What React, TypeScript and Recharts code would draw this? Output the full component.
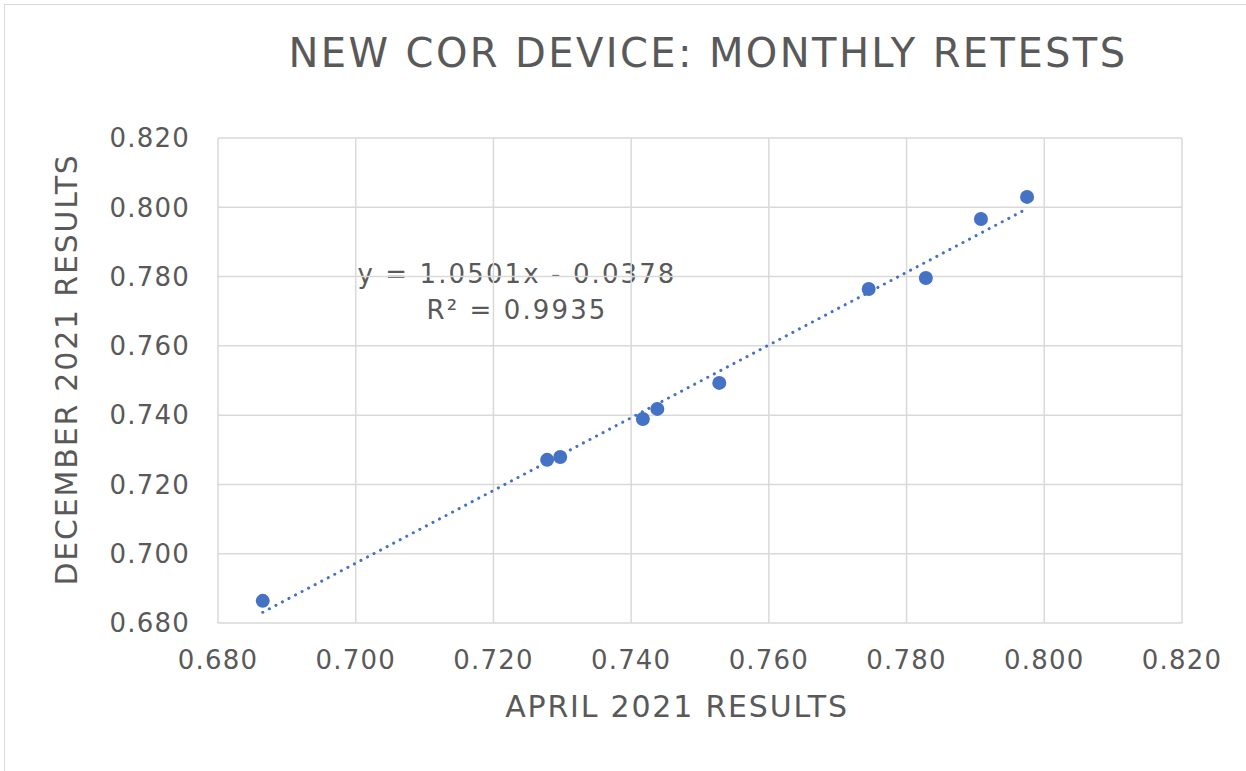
import {
  ScatterChart,
  Scatter,
  XAxis,
  YAxis,
  CartesianGrid,
  Label,
} from "recharts";

// April 2021 vs December 2021 retest results
const aprilResults = [0.6865, 0.7278, 0.7297, 0.7417, 0.7438, 0.7528, 0.7745, 0.7828, 0.7908, 0.7975];
const decemberResults = [0.6864, 0.7271, 0.7279, 0.7389, 0.7418, 0.7493, 0.7764, 0.7796, 0.7966, 0.803];

// linear trendline end points, as drawn
const trendX = [0.6865, 0.7975];
const trendY = [0.6831, 0.7996];

const axisTicks = [0.68, 0.7, 0.72, 0.74, 0.76, 0.78, 0.8, 0.82];

const points = aprilResults.map((x, i) => ({ x, y: decemberResults[i] }));
const trend = trendX.map((x, i) => ({ x, y: trendY[i] }));

const textColor = "#595959";
const blue = "#4472c4";
const font = "'DejaVu Sans', Verdana, sans-serif";

const App = () => {
  return (
    <div
      style={{
        position: "absolute",
        left: 0,
        top: 0,
        width: 1246,
        height: 771,
        background: "#fff",
        fontFamily: font,
        overflow: "hidden",
      }}
    >
      <div
        style={{
          position: "absolute",
          left: 4,
          top: 4,
          width: 1260,
          height: 780,
          border: "1px solid #d9d9d9",
        }}
      />
      <div
        style={{
          position: "absolute",
          left: 0,
          width: 1416,
          top: 30,
          textAlign: "center",
          fontSize: 40,
          letterSpacing: 2.4,
          color: textColor,
        }}
      >
        NEW COR DEVICE: MONTHLY RETESTS
      </div>
      <div
        style={{
          position: "absolute",
          left: 317,
          width: 400,
          top: 256,
          textAlign: "center",
          fontSize: 26,
          lineHeight: "36px",
          letterSpacing: 2.1,
          color: textColor,
        }}
      >
        y = 1.0501x - 0.0378
        <br />
        R² = 0.9935
      </div>
      <div style={{ position: "absolute", left: 0, top: 0 }}>
        <ScatterChart
          width={1246}
          height={771}
          margin={{ top: 138, right: 64, bottom: 0, left: 0 }}
          style={{ fontFamily: font }}
        >
          <CartesianGrid stroke="#d9d9d9" strokeWidth={1.5} />
          <XAxis
            type="number"
            dataKey="x"
            domain={[0.68, 0.82]}
            ticks={axisTicks}
            tickFormatter={(v: number) => v.toFixed(3)}
            axisLine={false}
            tickLine={false}
            tickSize={0}
            tickMargin={28}
            height={148}
            tick={{ fill: textColor, fontSize: 26, letterSpacing: 1.2 }}
            interval={0}
          >
            <Label
              value="APRIL 2021 RESULTS"
              position="insideTop"
              offset={73}
              dx={-23}
              style={{ fill: textColor, fontSize: 30, letterSpacing: 1.8 }}
            />
          </XAxis>
          <YAxis
            type="number"
            dataKey="y"
            domain={[0.68, 0.82]}
            ticks={axisTicks}
            tickFormatter={(v: number) => v.toFixed(3)}
            axisLine={false}
            tickLine={false}
            tickSize={0}
            tickMargin={28}
            width={218}
            tick={{ fill: textColor, fontSize: 26, letterSpacing: 1.2 }}
            interval={0}
          >
            <Label
              value="DECEMBER 2021 RESULTS"
              angle={-90}
              position="insideLeft"
              offset={63}
              dx={3}
              dy={-11}
              style={{ fill: textColor, fontSize: 30, textAnchor: "middle", letterSpacing: 1.8 }}
            />
          </YAxis>
          <Scatter
            data={trend}
            line={{ stroke: blue, strokeWidth: 3, strokeDasharray: "0.1 7.3", strokeLinecap: "round" }}
            shape={() => <g />}
            isAnimationActive={false}
          />
          <Scatter data={points} fill={blue} isAnimationActive={false} shape={(p: any) => <circle cx={p.cx} cy={p.cy} r={7} fill={blue} />} />
        </ScatterChart>
      </div>
    </div>
  );
};

export default App;
